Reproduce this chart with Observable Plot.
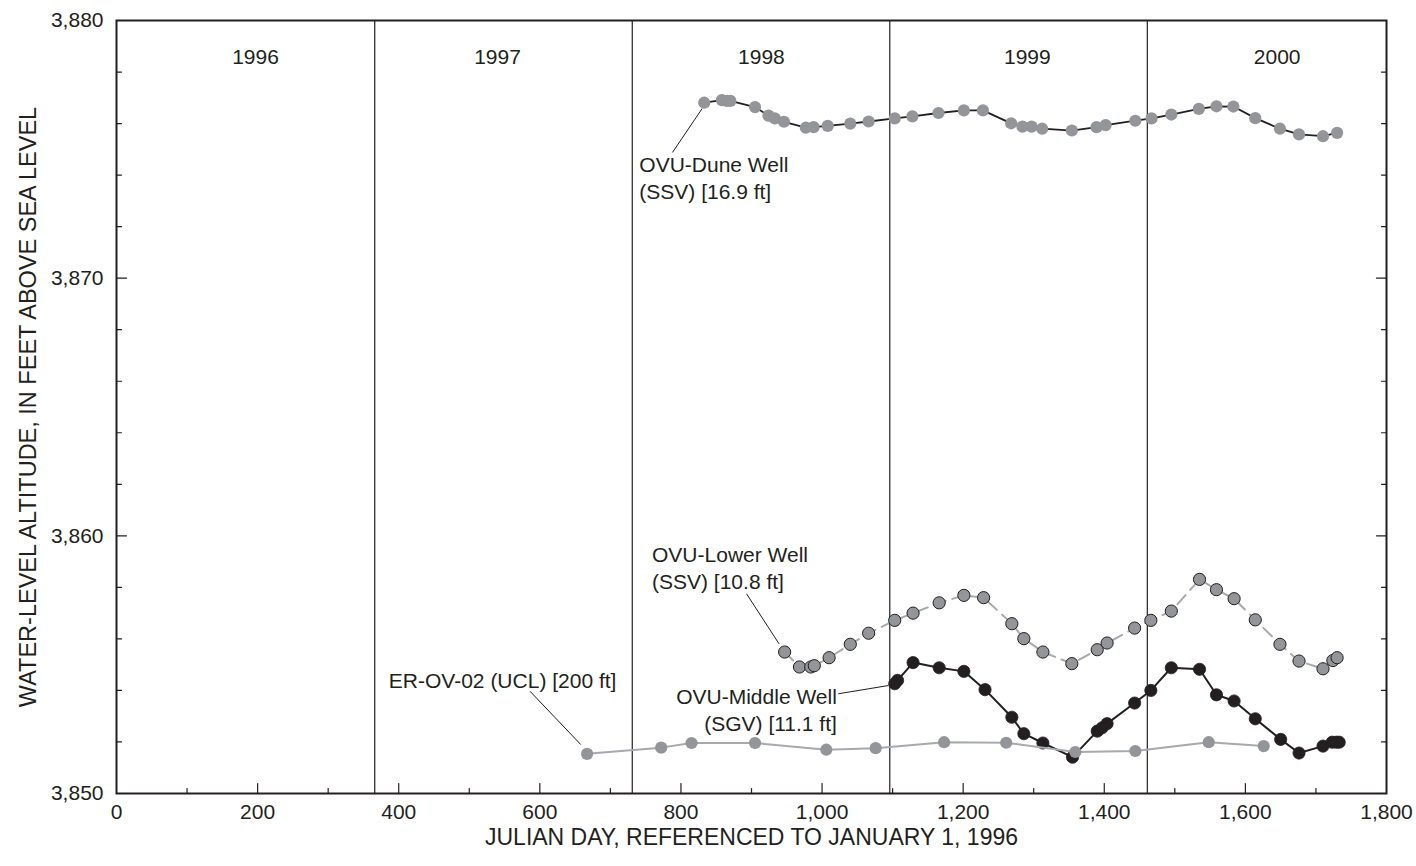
<!DOCTYPE html>
<html>
<head>
<meta charset="utf-8">
<script src="https://cdn.jsdelivr.net/npm/d3@7"></script>
<script src="https://cdn.jsdelivr.net/npm/@observablehq/plot@0.6"></script>
<style>
  html, body { margin: 0; padding: 0; background: #fff; }
  #chart svg { display: block; }
</style>
</head>
<body>
<div id="chart"></div>
<script>
// Water-level altitude (feet above sea level) by Julian day, referenced to January 1, 1996

// OVU-Dune Well (SSV) [16.9 ft]
const duneDay = [833, 858, 865, 870, 905, 924, 933, 946, 977, 988, 1008, 1040, 1066, 1103, 1128, 1165, 1201, 1228,
  1268, 1284, 1297, 1312, 1354, 1389, 1402, 1444, 1467, 1495, 1534, 1559, 1583, 1614, 1649, 1676, 1710, 1730];
const duneAlt = [3876.81, 3876.91, 3876.88, 3876.88, 3876.64, 3876.31, 3876.20, 3876.07, 3875.84, 3875.86, 3875.91,
  3876.00, 3876.08, 3876.20, 3876.28, 3876.41, 3876.51, 3876.51, 3876.01, 3875.88, 3875.88, 3875.80, 3875.73,
  3875.86, 3875.94, 3876.11, 3876.20, 3876.35, 3876.57, 3876.67, 3876.66, 3876.21, 3875.80, 3875.58, 3875.51, 3875.64];

// OVU-Lower Well (SSV) [10.8 ft]
const lowerDay = [947, 968, 984, 989, 1010, 1040, 1066, 1103, 1129, 1166, 1201, 1229, 1269, 1286, 1313, 1354, 1390,
  1404, 1443, 1466, 1495, 1535, 1559, 1584, 1614, 1649, 1676, 1710, 1724, 1730];
const lowerAlt = [3855.49, 3854.91, 3854.91, 3854.96, 3855.27, 3855.79, 3856.22, 3856.72, 3857.00, 3857.40, 3857.69,
  3857.60, 3856.59, 3856.01, 3855.49, 3855.04, 3855.58, 3855.84, 3856.42, 3856.72, 3857.08, 3858.31, 3857.91,
  3857.56, 3856.74, 3855.79, 3855.14, 3854.84, 3855.16, 3855.27];

// OVU-Middle Well (SGV) [11.1 ft]
const middleDay = [1103, 1107, 1129, 1166, 1201, 1231, 1269, 1286, 1313, 1355, 1390, 1397, 1404, 1443, 1466, 1495,
  1535, 1559, 1584, 1614, 1650, 1676, 1710, 1723, 1729, 1733];
const middleAlt = [3854.26, 3854.39, 3855.08, 3854.88, 3854.74, 3854.03, 3852.96, 3852.32, 3851.96, 3851.41, 3852.42,
  3852.55, 3852.71, 3853.51, 3854.00, 3854.88, 3854.82, 3853.83, 3853.59, 3852.90, 3852.10, 3851.57, 3851.84,
  3851.99, 3851.99, 3851.99];

// ER-OV-02 (UCL) [200 ft]
const erDay = [667, 772, 815, 905, 1006, 1076, 1173, 1261, 1359, 1444, 1548, 1626];
const erAlt = [3851.54, 3851.78, 3851.96, 3851.96, 3851.70, 3851.76, 3851.99, 3851.97, 3851.61, 3851.65, 3851.99, 3851.84];

// Calendar years: label text, where each label sits, and the day each new year starts
const years = ["1996", "1997", "1998", "1999", "2000"];
const yearLabelDay = [197, 540, 914, 1291, 1645];
const yearBoundary = [366, 731, 1096, 1461];

// Axis ticks
const xTickLabels = [0, 200, 400, 600, 800, 1000, 1200, 1400, 1600, 1800];
const xMinorTicks = [100, 300, 500, 700, 900, 1100, 1300, 1500, 1700];
const yTickLabels = [3850, 3860, 3870, 3880];
const yMinorTicks = [3852, 3854, 3856, 3858, 3862, 3864, 3866, 3868, 3872, 3874, 3876, 3878];

// Well labels and their leader lines (day, altitude)
const labelText = ["OVU-Dune Well\n(SSV) [16.9 ft]", "OVU-Lower Well\n(SSV) [10.8 ft]",
  "ER-OV-02 (UCL) [200 ft]", "OVU-Middle Well\n(SGV) [11.1 ft]"];
const labelDay = [741, 759, 386, 1021];
const labelAlt = [3873.93, 3858.79, 3854.45, 3853.30];
const labelAnchor = ["start", "start", "start", "end"];
const leaderDay1 = [788, 893, 586, 1023];
const leaderAlt1 = [3874.88, 3857.75, 3853.97, 3853.87];
const leaderDay2 = [830, 939, 658, 1094];
const leaderAlt2 = [3876.58, 3855.81, 3851.90, 3854.19];

const zip = (xs, ys) => xs.map((x, i) => ({day: x, alt: ys[i]}));
const dune = zip(duneDay, duneAlt);
const lower = zip(lowerDay, lowerAlt);
const middle = zip(middleDay, middleAlt);
const er = zip(erDay, erAlt);
const yearRows = years.map((y, i) => ({year: y, day: yearLabelDay[i]}));
const labels = labelText.map((t, i) => ({text: t, day: labelDay[i], alt: labelAlt[i], anchor: labelAnchor[i]}));
const leaders = leaderDay1.map((d, i) => ({x1: d, y1: leaderAlt1[i], x2: leaderDay2[i], y2: leaderAlt2[i]}));

const ink = "#231f20";
const dotGray = "#939598";
const lineGray = "#a7a9ac";
const dotR = 6.1;

// Short tick strokes drawn inward from each side of the frame
const tickShape = {draw(context, l) { context.moveTo(0, 0); context.lineTo(0, -l); }};
const inwardTicks = (data, axis, anchor, rotate, length) => Plot.vector(data, {
  [axis]: d => d, frameAnchor: anchor, rotate, length, anchor: "start",
  shape: tickShape, stroke: ink, strokeWidth: 1.2
});

const chart = Plot.plot({
  width: 1416,
  height: 866,
  marginLeft: 116,
  marginRight: 30,
  marginTop: 20,
  marginBottom: 73,
  style: {fontFamily: "'Liberation Sans', Arial, Helvetica, sans-serif", color: ink, background: "#fff"},
  x: {domain: [0, 1800]},
  y: {domain: [3850, 3880]},
  marks: [
    // year boundaries and labels
    Plot.ruleX(yearBoundary, {stroke: ink, strokeWidth: 1.2}),
    Plot.text(yearRows, {x: "day", text: "year", frameAnchor: "top", lineAnchor: "middle", dy: 37,
      fontSize: 21, fill: ink}),

    // inward ticks on all four sides
    inwardTicks(xTickLabels.slice(1, -1), "x", "bottom", 0, 10),
    inwardTicks(xMinorTicks, "x", "bottom", 0, 5),
    inwardTicks(yTickLabels.slice(1, -1), "y", "left", 90, 10),
    inwardTicks(yMinorTicks, "y", "left", 90, 5),
    inwardTicks(yTickLabels.slice(1, -1), "y", "right", -90, 10),
    inwardTicks(yMinorTicks, "y", "right", -90, 5),

    // tick labels
    Plot.axisX(xTickLabels, {tickSize: 0, tickPadding: 11, fontSize: 21, label: null,
      tickFormat: d3.format(",")}),
    Plot.axisY(yTickLabels, {tickSize: 0, tickPadding: 13, fontSize: 21, label: null,
      tickFormat: d3.format(",")}),

    // axis titles
    Plot.text(["JULIAN DAY, REFERENCED TO JANUARY 1, 1996"], {frameAnchor: "bottom", lineAnchor: "middle",
      textAnchor: "middle", dy: 44, fontSize: 23, fill: ink}),
    Plot.text(["WATER-LEVEL ALTITUDE, IN FEET ABOVE SEA LEVEL"], {frameAnchor: "left", lineAnchor: "middle",
      textAnchor: "middle", dx: -88, rotate: -90, fontSize: 23.5, fill: ink}),

    // OVU-Middle Well
    Plot.line(middle, {x: "day", y: "alt", stroke: ink, strokeWidth: 2}),
    Plot.dot(middle, {x: "day", y: "alt", r: dotR, fill: ink, stroke: ink, strokeWidth: 0.8}),

    // ER-OV-02
    Plot.line(er, {x: "day", y: "alt", stroke: lineGray, strokeWidth: 2}),
    Plot.dot(er, {x: "day", y: "alt", r: dotR, fill: dotGray}),

    // OVU-Lower Well
    Plot.line(lower, {x: "day", y: "alt", stroke: lineGray, strokeWidth: 2, strokeDasharray: "12,7"}),
    Plot.dot(lower, {x: "day", y: "alt", r: dotR, fill: dotGray, stroke: ink, strokeWidth: 1}),

    // OVU-Dune Well
    Plot.line(dune, {x: "day", y: "alt", stroke: ink, strokeWidth: 1.8}),
    Plot.dot(dune, {x: "day", y: "alt", r: dotR, fill: dotGray}),

    // well labels with leaders
    Plot.link(leaders, {x1: "x1", y1: "y1", x2: "x2", y2: "y2", stroke: ink, strokeWidth: 1}),
    Plot.text(labels.filter(d => d.anchor === "start"), {x: "day", y: "alt", text: "text", textAnchor: "start",
      lineHeight: 1.3, fontSize: 21, fill: ink}),
    Plot.text(labels.filter(d => d.anchor === "end"), {x: "day", y: "alt", text: "text", textAnchor: "end",
      lineHeight: 1.3, fontSize: 21, fill: ink}),

    Plot.frame({stroke: ink, strokeWidth: 2})
  ]
});

document.getElementById("chart").append(chart);
</script>
</body>
</html>
